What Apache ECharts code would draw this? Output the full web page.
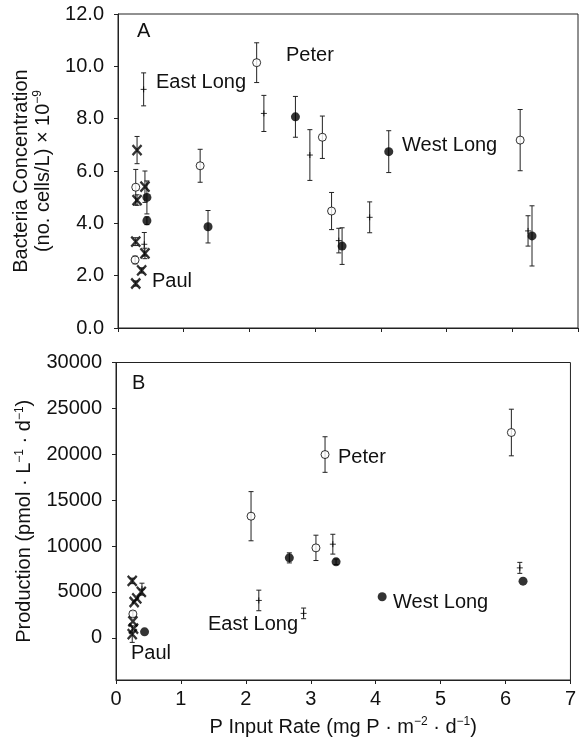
<!DOCTYPE html>
<html>
<head>
<meta charset="utf-8">
<script src="https://cdn.jsdelivr.net/npm/echarts@6/dist/echarts.min.js"></script>
<style>
html,body{margin:0;padding:0;background:#fff;}
#chart{width:579px;height:744px;}
</style>
</head>
<body>
<div id="chart"></div>
<script>
// ---------- Panel A: bacteria concentration ----------
const peterA_x = [0.27, 0.26, 1.25, 2.11, 3.11, 3.25, 6.12];
const peterA_y = [5.38, 2.60, 6.20, 10.14, 7.29, 4.47, 7.18];
const peterA_e = [0.68, 0.15, 0.63, 0.76, 0.81, 0.71, 1.17];

const eastA_x = [0.39, 0.40, 2.22, 2.92, 3.36, 3.83, 6.24];
const eastA_y = [9.12, 3.20, 8.20, 6.61, 3.34, 4.23, 3.71];
const eastA_e = [0.63, 0.45, 0.69, 0.97, 0.47, 0.59, 0.58];

const westA_x = [0.44, 0.44, 1.37, 2.70, 3.41, 4.12, 6.30];
const westA_y = [4.99, 4.10, 3.87, 8.07, 3.13, 6.74, 3.52];
const westA_e = [0.63, 0.15, 0.62, 0.78, 0.70, 0.80, 1.15];

const paulA_x = [0.29, 0.41, 0.29, 0.27, 0.41, 0.36, 0.27];
const paulA_y = [6.80, 5.40, 4.89, 3.30, 2.85, 2.20, 1.70];
const paulA_e = [0.52, 0.60, 0.20, 0.15, 0.20, 0.10, 0.10];

// ---------- Panel B: production ----------
const peterB_x = [0.26, 2.08, 3.08, 3.22, 6.09];
const peterB_y = [2600, 13250, 9800, 19970, 22370];
const peterB_e = [300, 2680, 1380, 1940, 2540];

const eastB_x = [0.40, 2.20, 2.89, 3.34, 6.22];
const eastB_y = [5300, 4070, 2660, 10200, 7620];
const eastB_e = [650, 1120, 580, 1080, 600];

const westB_x = [0.44, 2.67, 3.39, 4.10, 6.27];
const westB_y = [650, 8710, 8280, 4470, 6170];
const westB_e = [0, 550, 300, 0, 0];

const paulB_x = [0.25, 0.39, 0.32, 0.28, 0.26, 0.27, 0.25];
const paulB_y = [6200, 5000, 4300, 3900, 1800, 1000, 400];
const paulB_e = [300, 0, 0, 0, 0, 0, 900];

// axis ticks / labels
const xTicks = [0, 1, 2, 3, 4, 5, 6, 7];
const yTicksA = [0, 2, 4, 6, 8, 10, 12];
const yTicksB = [0, 5000, 10000, 15000, 20000, 25000, 30000];

// annotations
const labelsA = ['A', 'Peter', 'East Long', 'West Long', 'Paul'];
const labelsB = ['B', 'Peter', 'East Long', 'West Long', 'Paul'];

const FONT = '"Liberation Sans", Arial, sans-serif';
const INK = '#111';
const LINE = '#222';

function zip3(xs, ys, es) { return xs.map((x, i) => [x, ys[i], es[i]]); }

function errRender(params, api) {
  const x = api.value(0), y = api.value(1), e = api.value(2);
  if (!e) return null;
  const t = api.coord([x, y + e]);
  const b = api.coord([x, y - e]);
  const hw = 2.5;
  const st = { stroke: LINE, lineWidth: 1 };
  return {
    type: 'group',
    children: [
      { type: 'line', shape: { x1: t[0], y1: t[1], x2: b[0], y2: b[1] }, style: st },
      { type: 'line', shape: { x1: t[0] - hw, y1: t[1], x2: t[0] + hw, y2: t[1] }, style: st },
      { type: 'line', shape: { x1: b[0] - hw, y1: b[1], x2: b[0] + hw, y2: b[1] }, style: st }
    ]
  };
}

const sym = {
  open: { symbol: 'circle', symbolSize: 8, itemStyle: { color: '#fff', borderColor: '#000', borderWidth: 1 } },
  filled: { symbol: 'circle', symbolSize: 9, itemStyle: { color: '#000', borderColor: '#000', borderWidth: 0 } },
  plus: { symbol: 'path://M0,5L10,5M5,0L5,10', symbolSize: 6, itemStyle: { color: 'none', borderColor: '#000', borderWidth: 1 } },
  cross: { symbol: 'path://M0,0L10,10M10,0L0,10', symbolSize: [9, 10], itemStyle: { color: 'none', borderColor: '#000', borderWidth: 2.4 } }
};

function groupSeries(gi, xs, ys, es, kind) {
  const data = zip3(xs, ys, es);
  return [
    { type: 'custom', xAxisIndex: gi, yAxisIndex: gi, renderItem: errRender, data: data, encode: { x: 0, y: 1 }, z: 2, silent: true },
    Object.assign({ type: 'scatter', xAxisIndex: gi, yAxisIndex: gi, data: data.map(d => [d[0], d[1]]), z: 3, silent: true }, sym[kind])
  ];
}

const rich = { sup: { fontSize: 12, fontFamily: FONT, color: INK, verticalAlign: 'top', lineHeight: 22 } };

const tickStyle = { show: true, length: 4, lineStyle: { color: LINE, width: 1 } };
const lineStyleAx = { show: true, onZero: false, lineStyle: { color: LINE } };

const option = {
  animation: false,
  backgroundColor: '#fff',
  grid: [
    { left: 118, top: 14, width: 460, height: 314, show: true, borderColor: LINE, borderWidth: 1, containLabel: false },
    { left: 116, top: 362.5, width: 460, height: 317.5, show: true, borderColor: LINE, borderWidth: 1, containLabel: false }
  ],
  xAxis: [
    { type: 'value', gridIndex: 0, min: xTicks[0], max: xTicks[xTicks.length - 1], interval: 1,
      axisLine: lineStyleAx, axisTick: tickStyle,
      axisLabel: { show: false }, splitLine: { show: false } },
    { type: 'value', gridIndex: 1, min: xTicks[0], max: xTicks[xTicks.length - 1], interval: 1,
      axisLine: lineStyleAx, axisTick: tickStyle,
      axisLabel: { show: true, fontSize: 20, fontFamily: FONT, color: INK, margin: 9 },
      splitLine: { show: false },
      name: 'P Input Rate (mg P · m{sup|−2} · d{sup|−1})', nameLocation: 'middle', nameGap: 36,
      nameTextStyle: { fontSize: 20, fontFamily: FONT, color: INK, lineHeight: 22, rich: rich } }
  ],
  yAxis: [
    { type: 'value', gridIndex: 0, min: yTicksA[0], max: yTicksA[yTicksA.length - 1], interval: 2,
      axisLine: lineStyleAx, axisTick: tickStyle,
      axisLabel: { show: true, fontSize: 20, fontFamily: FONT, color: INK, margin: 14, formatter: v => v.toFixed(1) },
      splitLine: { show: false },
      name: 'Bacteria Concentration\n(no. cells/L) × 10{sup|−9}', nameLocation: 'middle', nameRotate: 90, nameGap: 48,
      nameTextStyle: { fontSize: 20, fontFamily: FONT, color: INK, lineHeight: 22, rich: rich } },
    { type: 'value', gridIndex: 1, min: -4600, max: yTicksB[yTicksB.length - 1],
      axisLine: lineStyleAx,
      axisTick: Object.assign({ customValues: yTicksB }, tickStyle),
      axisLabel: { show: true, customValues: yTicksB, fontSize: 20, fontFamily: FONT, color: INK, margin: 14, formatter: v => String(v) },
      splitLine: { show: false },
      name: 'Production (pmol · L{sup|−1} · d{sup|−1})', nameLocation: 'middle', nameRotate: 90, nameGap: 70,
      nameTextStyle: { fontSize: 20, fontFamily: FONT, color: INK, lineHeight: 22, rich: rich } }
  ],
  graphic: (function () {
    const posA = [[137, 31], [286, 55], [156, 82], [402, 145], [152, 281]];
    const posB = [[132, 383], [338, 457], [208, 624], [393, 602], [131, 653]];
    const els = [];
    labelsA.forEach((t, i) => els.push({ type: 'text', x: posA[i][0], y: posA[i][1], z: 10,
      style: { text: t, font: '20px ' + FONT, fill: INK, align: 'left', verticalAlign: 'middle', textAlign: 'left', textVerticalAlign: 'middle' } }));
    labelsB.forEach((t, i) => els.push({ type: 'text', x: posB[i][0], y: posB[i][1], z: 10,
      style: { text: t, font: '20px ' + FONT, fill: INK, align: 'left', verticalAlign: 'middle', textAlign: 'left', textVerticalAlign: 'middle' } }));
    return els;
  })(),
  series: [].concat(
    groupSeries(0, peterA_x, peterA_y, peterA_e, 'open'),
    groupSeries(0, eastA_x, eastA_y, eastA_e, 'plus'),
    groupSeries(0, westA_x, westA_y, westA_e, 'filled'),
    groupSeries(0, paulA_x, paulA_y, paulA_e, 'cross'),
    groupSeries(1, peterB_x, peterB_y, peterB_e, 'open'),
    groupSeries(1, eastB_x, eastB_y, eastB_e, 'plus'),
    groupSeries(1, westB_x, westB_y, westB_e, 'filled'),
    groupSeries(1, paulB_x, paulB_y, paulB_e, 'cross')
  )
};

const chart = echarts.init(document.getElementById('chart'), null, { renderer: 'canvas' });
chart.setOption(option);
</script>
</body>
</html>
